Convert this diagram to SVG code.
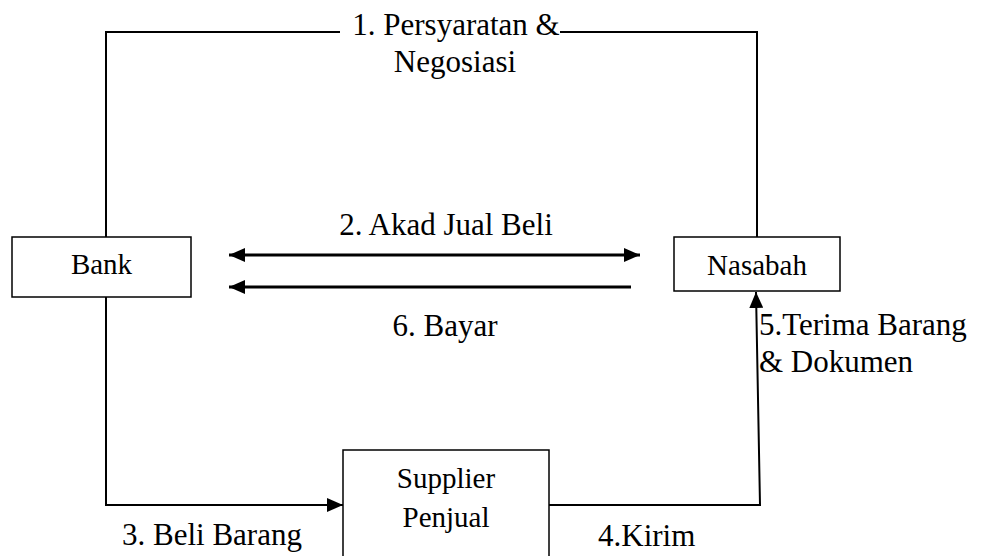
<svg xmlns="http://www.w3.org/2000/svg" width="982" height="556" viewBox="0 0 982 556">
<defs>
<style>
.box{fill:#fff;stroke:#000;stroke-width:1.5}
.ln{fill:none;stroke:#000;stroke-width:2}
.ar{fill:none;stroke:#000;stroke-width:3}
.t{font-size:31px;fill:#000}
.bt{font-size:29px;fill:#000;text-anchor:middle}
</style>
<marker id="ah" viewBox="0 0 16 14" refX="16" refY="7" markerWidth="16" markerHeight="14" markerUnits="userSpaceOnUse" orient="auto-start-reverse">
<path d="M0,0 L16,7 L0,14 Z" fill="#000"/>
</marker>
</defs>
<g id="connectors" font-family="'Liberation Serif', 'DejaVu Serif', serif">
<polyline class="ln" points="340,32 106,32 106,237"/>
<polyline class="ln" points="560,32 757,32 757,237"/>
<line class="ar" x1="229" y1="255" x2="640" y2="255" marker-start="url(#ah)" marker-end="url(#ah)"/>
<line class="ar" x1="631" y1="287" x2="229" y2="287" marker-end="url(#ah)"/>
<polyline class="ln" points="106,297 106,505 343,505" marker-end="url(#ah)"/>
<polyline class="ln" points="549,505 760,505 756,292" marker-end="url(#ah)"/>
<text class="t" x="456" y="35" text-anchor="middle">1. Persyaratan &amp;</text>
<text class="t" x="455" y="72" text-anchor="middle">Negosiasi</text>
<text class="t" x="446" y="235" text-anchor="middle">2. Akad Jual Beli</text>
<text class="t" x="445" y="336" text-anchor="middle">6. Bayar</text>
<text class="t" x="759" y="335">5.Terima Barang</text>
<text class="t" x="759" y="372">&amp; Dokumen</text>
<text class="t" x="122" y="545">3. Beli Barang</text>
<text class="t" x="598" y="546">4.Kirim</text>
</g>
<g id="bank" font-family="'Liberation Serif', 'DejaVu Serif', serif">
<rect class="box" x="12" y="237" width="179" height="60"/>
<text class="bt" x="101.5" y="274">Bank</text>
</g>
<g id="nasabah" font-family="'Liberation Serif', 'DejaVu Serif', serif">
<rect class="box" x="674" y="237" width="166" height="54"/>
<text class="bt" x="757" y="275">Nasabah</text>
</g>
<g id="supplier" font-family="'Liberation Serif', 'DejaVu Serif', serif">
<rect class="box" x="343" y="450" width="206" height="120"/>
<text class="bt" x="446" y="488">Supplier</text>
<text class="bt" x="446" y="527">Penjual</text>
</g>
</svg>
